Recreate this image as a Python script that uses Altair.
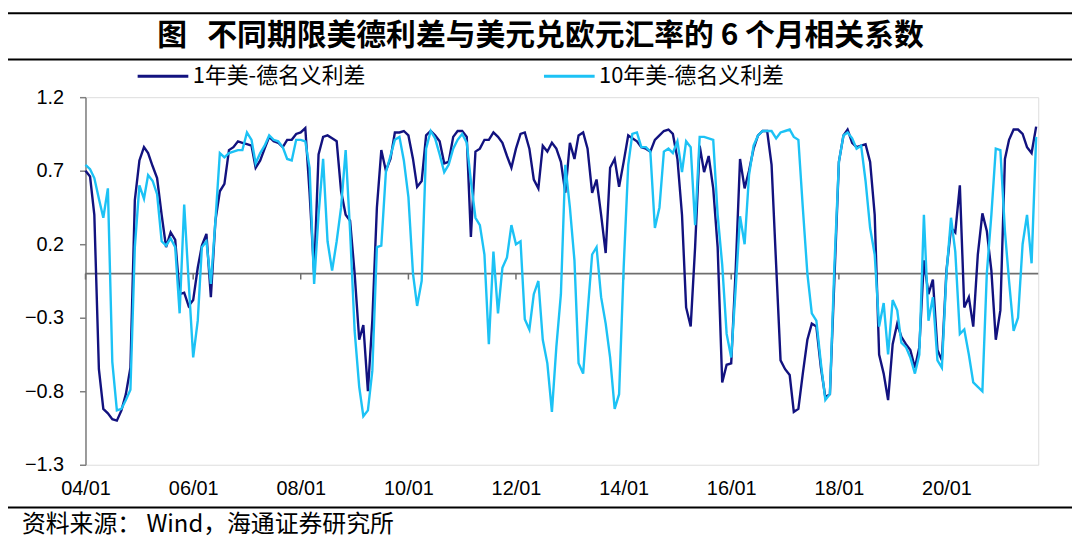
import altair as alt
import pandas as pd

# ---- data (monthly, 2004/01 .. 2021/09) ----
start_year = 2004
start_month = 1
series_names = ["1年美-德名义利差", "10年美-德名义利差"]
series_colors = ["#12127F", "#1CC2F5"]

corr_1y = [
    0.70, 0.66, 0.40, -0.65, -0.92, -0.95, -0.99, -1.00, -0.93, -0.82,
    -0.64, 0.50, 0.77, 0.86, 0.82, 0.73, 0.65, 0.40, 0.18, 0.28,
    0.23, -0.14, -0.13, -0.22, -0.18, 0.04, 0.19, 0.27, -0.16, 0.36,
    0.56, 0.61, 0.84, 0.86, 0.90, 0.89, 0.88, 0.87, 0.72, 0.77,
    0.85, 0.93, 0.90, 0.89, 0.86, 0.91, 0.91, 0.95, 0.96, 0.99,
    0.55, 0.00, 0.81, 0.93, 0.94, 0.92, 0.90, 0.56, 0.40, 0.36,
    0.00, -0.45, -0.35, -0.80, -0.32, 0.45, 0.84, 0.70, 0.78, 0.96,
    0.96, 0.97, 0.94, 0.78, 0.59, 0.63, 0.94, 0.97, 0.94, 0.90,
    0.75, 0.76, 0.93, 0.97, 0.97, 0.93, 0.25, 0.83, 0.85, 0.91,
    0.91, 0.96, 0.93, 0.89, 0.80, 0.72, 0.85, 0.95, 0.96, 0.85,
    0.64, 0.58, 0.87, 0.83, 0.89, 0.85, 0.76, 0.55, 0.89, 0.78,
    0.94, 0.96, 0.85, 0.55, 0.64, 0.40, 0.14, 0.72, 0.78, 0.59,
    0.76, 0.94, 0.92, 0.90, 0.86, 0.85, 0.83, 0.91, 0.94, 0.97,
    0.98, 0.95, 0.78, 0.40, -0.23, -0.36, 0.18, 0.87, 0.69, 0.80,
    0.58, 0.18, -0.74, -0.62, -0.61, 0.04, 0.78, 0.58, 0.70, 0.85,
    0.94, 0.97, 0.97, 0.74, 0.06, -0.59, -0.65, -0.69, -0.94, -0.92,
    -0.68, -0.45, -0.34, -0.36, -0.64, -0.84, -0.82, -0.05, 0.76, 0.94,
    0.98, 0.89, 0.86, 0.87, 0.88, 0.76, 0.40, -0.55, -0.68, -0.86,
    -0.48, -0.34, -0.43, -0.48, -0.52, -0.64, -0.50, 0.09, -0.14, -0.04,
    -0.52, -0.59, 0.02, 0.31, 0.28, 0.60, -0.23, -0.16, -0.36, 0.13,
    0.41, 0.29, 0.02, -0.45, -0.25, 0.78, 0.91, 0.98, 0.98, 0.95,
    0.86, 0.82, 1.00,
]

corr_10y = [
    0.74, 0.71, 0.65, 0.51, 0.38, 0.58, -0.60, -0.93, -0.92, -0.86,
    -0.79, 0.18, 0.60, 0.51, 0.67, 0.63, 0.54, 0.22, 0.19, 0.24,
    0.18, -0.27, 0.47, -0.05, -0.57, -0.32, 0.18, 0.22, -0.07, 0.36,
    0.82, 0.79, 0.82, 0.83, 0.84, 0.84, 0.96, 0.91, 0.75, 0.82,
    0.87, 0.94, 0.91, 0.90, 0.86, 0.78, 0.77, 0.91, 0.91, 0.90,
    0.72, -0.07, 0.40, 0.78, 0.22, 0.02, 0.22, 0.45, 0.84, 0.29,
    -0.39, -0.77, -0.97, -0.93, -0.66, 0.18, 0.19, 0.69, 0.80, 0.91,
    0.93, 0.77, 0.52, 0.00, -0.22, -0.05, 0.85, 0.97, 0.92, 0.81,
    0.69, 0.74, 0.85, 0.91, 0.95, 0.89, 0.63, 0.38, 0.33, 0.13,
    -0.48, 0.15, -0.27, 0.04, 0.11, 0.33, 0.20, 0.22, -0.31, -0.38,
    -0.14, -0.05, -0.45, -0.61, -0.94, -0.50, -0.14, 0.74, 0.45, 0.09,
    -0.61, -0.68, -0.27, 0.13, 0.18, -0.16, -0.34, -0.57, -0.92, -0.82,
    0.04, 0.74, 0.95, 0.96, 0.86, 0.86, 0.83, 0.31, 0.45, 0.83,
    0.85, 0.82, 0.90, 0.69, 0.90, 0.86, 0.33, 0.93, 0.93, 0.92,
    0.91, 0.40, 0.06, -0.41, -0.57, -0.09, 0.39, 0.20, 0.67, 0.87,
    0.94, 0.97, 0.97, 0.97, 0.92, 0.96, 0.97, 0.98, 0.93, 0.91,
    0.45, 0.00, -0.27, -0.32, -0.61, -0.86, -0.82, 0.04, 0.76, 0.94,
    0.96, 0.92, 0.85, 0.87, 0.63, 0.31, 0.13, -0.36, -0.20, -0.55,
    -0.18, -0.25, -0.47, -0.50, -0.57, -0.68, -0.55, 0.40, -0.32, -0.16,
    -0.59, -0.64, 0.00, 0.38, 0.15, -0.41, -0.38, -0.55, -0.74, -0.77,
    -0.80, 0.00, 0.40, 0.85, 0.84, 0.29, -0.05, -0.39, -0.30, 0.20,
    0.40, 0.07, 0.93,
]

y_ticks = [-1.3, -0.8, -0.3, 0.2, 0.7, 1.2]
x_tick_years = [2004, 2006, 2008, 2010, 2012, 2014, 2016, 2018, 2020]

NBSP = "\u00a0"
title_text = "图" + NBSP * 3 + "不同期限美德利差与美元兑欧元汇率的" + NBSP + "6" + NBSP + "个月相关系数"
source_text = "资料来源：" + NBSP + "Wind，海通证券研究所"


def month_str(i):
    y = start_year + (start_month - 1 + i) // 12
    m = (start_month - 1 + i) % 12 + 1
    return f"{y:04d}/{m:02d}/01"


df1 = pd.DataFrame({
    "date": [month_str(i) for i in range(len(corr_1y))],
    "value": corr_1y,
    "series": series_names[0],
})
df2 = pd.DataFrame({
    "date": [month_str(i) for i in range(len(corr_10y))],
    "value": corr_10y,
    "series": series_names[1],
})
ticks_df = pd.DataFrame({"date": [f"{y}/01/01" for y in x_tick_years]})

W = 959
H = 370
LABEL_FONT = "Liberation Sans"
CJK_FONT = "Noto Sans CJK SC"

x_scale = alt.Scale(domain=[alt.DateTime(year=2004, month=1, date=1),
                            alt.DateTime(year=2021, month=9, date=15)])
y_scale = alt.Scale(domain=[-1.3, 1.2], nice=False, zero=False)
color_scale = alt.Scale(domain=series_names, range=series_colors)

x_axis = alt.Axis(
    title=None, format="%y/%m", domain=False, ticks=False, grid=False,
    values=[alt.DateTime(year=y, month=1, date=1) for y in x_tick_years],
    labelFont=LABEL_FONT, labelFontSize=20, labelColor="#000000",
    labelPadding=14, labelFlush=False, labelOverlap=False,
)
y_axis = alt.Axis(
    title=None, values=y_ticks, format=".1f", grid=False,
    domain=True, domainColor="#7f7f7f", domainWidth=1.5,
    ticks=True, tickColor="#7f7f7f", tickSize=6, tickWidth=1.5,
    labelFont=LABEL_FONT, labelFontSize=20, labelColor="#000000",
    labelPadding=16,
)

legend = alt.Legend(
    title=None, orient="none", legendX=51, legendY=-48,
    direction="horizontal", columns=2, columnPadding=173,
    symbolType="stroke", symbolSize=2601, symbolStrokeWidth=3,
    labelFont=CJK_FONT, labelFontSize=22, labelColor="#000000",
    labelOffset=3, labelLimit=400, padding=0,
)

line1 = alt.Chart(df1).mark_line(strokeWidth=2.4).encode(
    x=alt.X("date:T", scale=x_scale, axis=x_axis),
    y=alt.Y("value:Q", scale=y_scale, axis=y_axis),
    color=alt.Color("series:N", scale=color_scale, legend=legend),
)
line2 = alt.Chart(df2).mark_line(strokeWidth=2.4).encode(
    x=alt.X("date:T", scale=x_scale, axis=x_axis),
    y=alt.Y("value:Q", scale=y_scale, axis=y_axis),
    color=alt.Color("series:N", scale=color_scale, legend=legend),
)

zero_line = alt.Chart(pd.DataFrame({"z": [0]})).mark_rule(
    color="#6f6f6f", strokeWidth=1.6
).encode(y=alt.Y("z:Q", scale=y_scale, axis=y_axis))

zero_ticks = alt.Chart(ticks_df).transform_calculate(
    y0="0", y1="-0.04"
).mark_rule(color="#6f6f6f", strokeWidth=1.5).encode(
    x=alt.X("date:T", scale=x_scale, axis=x_axis),
    y=alt.Y("y0:Q", scale=y_scale, axis=y_axis),
    y2="y1:Q",
)

one = pd.DataFrame({"t": [0]})
rule_top = alt.Chart(one).mark_rule(color="#000000", strokeWidth=2).encode(
    x=alt.value(-78), x2=alt.value(W + 34), y=alt.value(-84.5)
)
rule_mid = alt.Chart(one).mark_rule(color="#000000", strokeWidth=2).encode(
    x=alt.value(-78), x2=alt.value(W + 34), y=alt.value(-38)
)
rule_bot = alt.Chart(one).mark_rule(color="#000000", strokeWidth=2).encode(
    x=alt.value(-78), x2=alt.value(W + 34), y=alt.value(413)
)

title_mark = alt.Chart(pd.DataFrame({"t": [title_text]})).mark_text(
    font=CJK_FONT, fontSize=30, fontWeight="bold", color="#000000",
    align="center", baseline="middle"
).encode(text="t:N", x=alt.value(458), y=alt.value(-62))

source_mark = alt.Chart(pd.DataFrame({"t": [source_text]})).mark_text(
    font=CJK_FONT, fontSize=24, color="#000000",
    align="left", baseline="middle"
).encode(text="t:N", x=alt.value(-64), y=alt.value(431))

chart = alt.layer(
    rule_top, rule_mid, rule_bot, title_mark, source_mark,
    zero_line, zero_ticks, line1, line2,
).properties(
    width=W, height=H,
    padding={"left": 78, "top": 88, "right": 34, "bottom": 80},
    autosize=alt.AutoSizeParams(type="none"),
).configure_view(stroke=None).configure(background="#ffffff")

chart.save("out.html", embed_options={"renderer": "svg", "actions": False})
